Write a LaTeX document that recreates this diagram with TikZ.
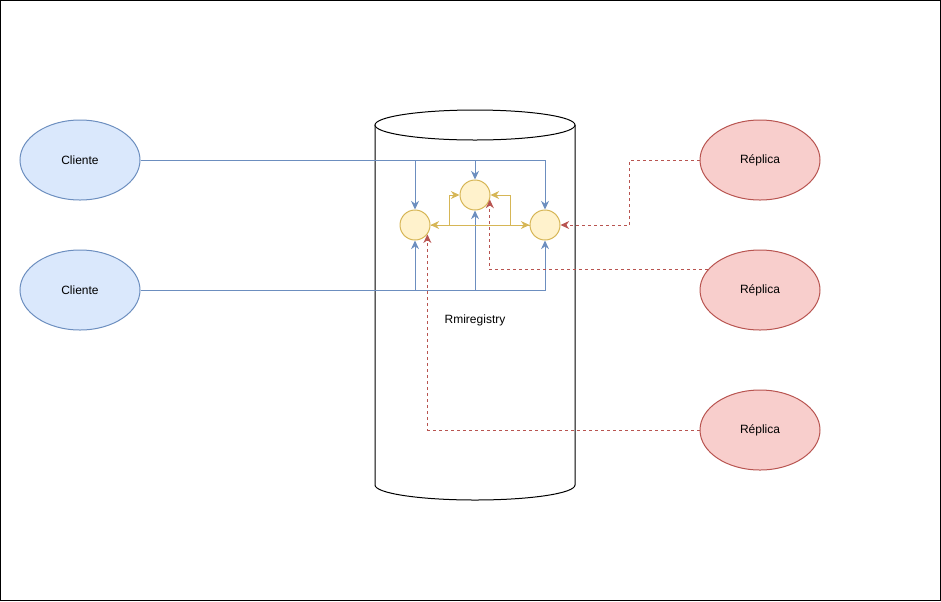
\documentclass[tikz,border=0pt]{standalone}
\usepackage{fontspec}
\setmainfont{Liberation Sans}
\usetikzlibrary{arrows.meta,shapes.geometric,calc}
\definecolor{cliFill}{HTML}{DAE8FC}
\definecolor{cliLine}{HTML}{6C8EBF}
\definecolor{repFill}{HTML}{F8CECC}
\definecolor{repLine}{HTML}{B85450}
\definecolor{objFill}{HTML}{FFF2CC}
\definecolor{objLine}{HTML}{D6B656}
\tikzset{
  cliente/.style={ellipse,draw=cliLine,fill=cliFill,line width=0.75pt,minimum width=90pt,minimum height=60pt,inner sep=0pt},
  replica/.style={ellipse,draw=repLine,fill=repFill,line width=0.75pt,minimum width=90pt,minimum height=60pt,inner sep=0pt},
  objeto/.style={circle,draw=objLine,fill=objFill,line width=0.75pt,minimum size=22.5pt,inner sep=0pt},
  tip/.style={-{Stealth[length=6.5pt,width=6pt]}},
  azul/.style={tip,draw=cliLine,line width=0.75pt},
  amarelo/.style={draw=objLine,line width=0.75pt},
  vermelho/.style={tip,draw=repLine,line width=0.75pt,dash pattern=on 2.25pt off 2.25pt}
}
\begin{document}
\begin{tikzpicture}[x=0.75pt,y=-0.75pt,font=\fontsize{9pt}{11pt}\selectfont]
\useasboundingbox (0,0) rectangle (941,601);
\draw[line width=0.75pt] (0.5,0.5) rectangle (940.5,600.5);

% registry
\draw[line width=0.75pt] (375,125) -- (375,485) arc[start angle=180,end angle=360,x radius=75pt,y radius=11.25pt] -- (575,125);
\draw[line width=0.75pt,fill=white] (475,125) ellipse [x radius=75pt,y radius=11.25pt];
\node (rmi) at (475,320) {Rmiregistry};

% clients and replicas
\node[cliente] (cli1) at (80,160) {Cliente};
\node[cliente] (cli2) at (80,290) {Cliente};
\node[replica] (rep1) at (760,160) {Réplica};
\node[replica] (rep2) at (760,290) {Réplica};
\node[replica] (rep3) at (760,430) {Réplica};

% remote objects
\node[objeto] (obj1) at (415,225) {};
\node[objeto] (obj2) at (475,195) {};
\node[objeto] (obj3) at (545,225) {};

\foreach \o in {obj1,obj2,obj3}{
  \draw[azul] (cli1.east) -| (\o.north);
  \draw[azul] (cli2.east) -| (\o.south);
}

\draw[amarelo,{Stealth[length=6.5pt,width=6pt]}-{Stealth[length=6.5pt,width=6pt]}] (obj1.east) -- (obj3.west);
\draw[amarelo,tip] (obj1.east) -| ([xshift=-7.5pt]obj2.west) -- (obj2.west);
\draw[amarelo,tip] (obj3.west) -| ([xshift=15pt]obj2.east) -- (obj2.east);

\draw[vermelho] (rep1.west) -- ++(-52.5pt,0) |- (obj3.east);
\draw[vermelho] (rep2.159) -| (obj2.-17);
\draw[vermelho] (rep3.west) -| (obj1.-37);
\end{tikzpicture}
\end{document}
